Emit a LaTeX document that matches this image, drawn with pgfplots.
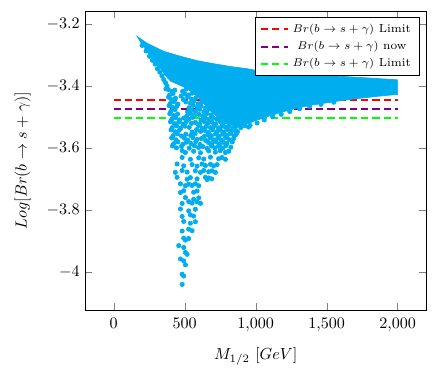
\documentclass[border=0pt]{standalone}
\usepackage{pgfplots}
\pgfplotsset{compat=1.18}
\definecolor{bcyan}{RGB}{0,174,239}
\definecolor{lpurple}{RGB}{128,0,128}
\definecolor{lgreen}{RGB}{0,255,0}
\begin{document}
\begin{tikzpicture}
\begin{axis}[
    scale only axis,
    width=212pt, height=186pt,
    xmin=-200, xmax=2200, ymin=-4.123, ymax=-3.16,
    xtick={0,500,1000,1500,2000},
    ytick={-4,-3.8,-3.6,-3.4,-3.2},
    xlabel={$M_{1/2}\ [GeV]$},
    ylabel={$Log[Br(b\rightarrow s+\gamma)]$},
    xlabel style={yshift=-3pt},
    ylabel style={yshift=3pt},
    xticklabel style={yshift=-1.5pt},
    legend style={font=\fontsize{7.3}{8.5}\selectfont, legend cell align=center},
]
% limits (drawn first, under the scan)
\addplot[red, very thick, dash pattern=on 4.5pt off 2.5pt] coordinates {(0,-3.445) (2000,-3.445)};
\addplot[lpurple, very thick, dash pattern=on 4.5pt off 2.5pt] coordinates {(0,-3.474) (2000,-3.474)};
\addplot[lgreen, very thick, dash pattern=on 4.5pt off 2.5pt] coordinates {(0,-3.504) (2000,-3.504)};
\legend{$Br(b\rightarrow s+\gamma)$ Limit, $Br(b\rightarrow s+\gamma)$ now, $Br(b\rightarrow s+\gamma)$ Limit}

% dense part of the scan (solid)
\addplot[fill=bcyan, draw=bcyan, line width=0.4pt, forget plot] coordinates {
 (165,-3.241) (235,-3.263) (352,-3.289) (470,-3.305) (587,-3.319) (704,-3.329)
 (822,-3.338) (939,-3.345) (1021,-3.352) (1200,-3.358) (1500,-3.367) (1800,-3.375)
 (2000,-3.381) (2000,-3.428) (1900,-3.432) (1800,-3.437) (1700,-3.442) (1600,-3.448)
 (1500,-3.455) (1400,-3.462) (1300,-3.471) (1200,-3.483) (1100,-3.497) (1000,-3.512)
 (930,-3.525) (870,-3.532) (820,-3.525) (760,-3.51) (700,-3.49) (650,-3.465)
 (600,-3.44) (550,-3.42) (500,-3.405) (450,-3.395) (400,-3.385) (360,-3.365)
 (329,-3.345) (290,-3.325) (258,-3.303) (220,-3.28) (190,-3.26)
} -- cycle;

% scattered points
\addplot[only marks, mark=*, mark size=1.35pt, bcyan, forget plot] coordinates {
 (200,-3.27) (228,-3.288) (252,-3.305) (272,-3.318) (292,-3.33) (308,-3.345)
 (325,-3.356) (340,-3.368) (352,-3.38) (365,-3.39) (375,-3.40) (368,-3.41)
 (960,-3.528) (1010,-3.52) (1060,-3.51) (1120,-3.500) (1180,-3.492) (1240,-3.483)
 (1310,-3.474) (1380,-3.466) (1460,-3.46) (1550,-3.453)
 (385,-3.412) (410,-3.419) (430,-3.414) (485,-3.418) (510,-3.411)
 (392,-3.431) (418,-3.425) (475,-3.433) (500,-3.426) (528,-3.430) (552,-3.424)
 (386,-3.437) (408,-3.445) (435,-3.440) (490,-3.444) (520,-3.436) (548,-3.443) (578,-3.439)
 (398,-3.457) (425,-3.451) (452,-3.459) (508,-3.452) (540,-3.456) (565,-3.449) (595,-3.458) (620,-3.453)
 (390,-3.464) (415,-3.470) (445,-3.466) (530,-3.471) (560,-3.463) (590,-3.469) (615,-3.465) (645,-3.472)
 (402,-3.483) (432,-3.477) (520,-3.484) (548,-3.478) (575,-3.482) (605,-3.476) (635,-3.485) (660,-3.479)
 (395,-3.490) (422,-3.496) (450,-3.491) (515,-3.497) (540,-3.489) (570,-3.495) (600,-3.492) (628,-3.498) (655,-3.490) (685,-3.494)
 (408,-3.509) (438,-3.503) (465,-3.510) (495,-3.504) (528,-3.508) (555,-3.502) (615,-3.511) (645,-3.505) (672,-3.509) (700,-3.503) (725,-3.508) (745,-3.504)
 (400,-3.516) (428,-3.522) (458,-3.517) (488,-3.523) (512,-3.515) (548,-3.521) (575,-3.518) (605,-3.524) (638,-3.516) (662,-3.521) (692,-3.517) (718,-3.523) (748,-3.515) (772,-3.520) (790,-3.517)
 (412,-3.535) (442,-3.529) (472,-3.536) (502,-3.530) (532,-3.534) (598,-3.528) (622,-3.537) (652,-3.531) (682,-3.535) (708,-3.529) (738,-3.536) (762,-3.530) (788,-3.534) (812,-3.528) (838,-3.536) (862,-3.531) (895,-3.535) (925,-3.529) (950,-3.533)
 (404,-3.542) (432,-3.548) (462,-3.543) (552,-3.549) (584,-3.541) (612,-3.547) (642,-3.544) (668,-3.550) (698,-3.542) (728,-3.548) (752,-3.543) (778,-3.549) (804,-3.541) (828,-3.547) (855,-3.544) (872,-3.548)
 (418,-3.561) (448,-3.555) (478,-3.562) (508,-3.556) (542,-3.560) (574,-3.554) (638,-3.563) (662,-3.557) (688,-3.561) (718,-3.555) (742,-3.562) (768,-3.556) (798,-3.560) (822,-3.554) (848,-3.561) (862,-3.557)
 (408,-3.568) (438,-3.574) (498,-3.569) (522,-3.575) (558,-3.567) (588,-3.573) (618,-3.570) (648,-3.576) (678,-3.568) (702,-3.574) (732,-3.569) (758,-3.575) (788,-3.567) (812,-3.573) (845,-3.570)
 (422,-3.587) (452,-3.581) (488,-3.588) (512,-3.582) (544,-3.586) (578,-3.580) (608,-3.589) (668,-3.583) (692,-3.587) (722,-3.581) (748,-3.588) (772,-3.582) (798,-3.586) (835,-3.581)
 (414,-3.594) (442,-3.600) (478,-3.595) (532,-3.601) (568,-3.593) (598,-3.599) (628,-3.596) (658,-3.602) (688,-3.594) (712,-3.600) (738,-3.595) (768,-3.601) (790,-3.593) (825,-3.598)
 (482,-3.609) (505,-3.615) (563,-3.611) (611,-3.616) (669,-3.610) (716,-3.614) (751,-3.609) (787,-3.615) (810,-3.611)
 (482,-3.631) (540,-3.637) (599,-3.632) (634,-3.636) (681,-3.630) (739,-3.635) (763,-3.631) (787,-3.637)
 (446,-3.652) (493,-3.658) (552,-3.654) (587,-3.659) (622,-3.652) (646,-3.657) (681,-3.653) (704,-3.658) (728,-3.654)
 (434,-3.679) (482,-3.673) (517,-3.678) (575,-3.674) (611,-3.679) (634,-3.673) (669,-3.677) (693,-3.674) (716,-3.679)
 (446,-3.695) (517,-3.701) (540,-3.696) (587,-3.700) (646,-3.695) (658,-3.702) (669,-3.697) (690,-3.700)
 (470,-3.716) (505,-3.722) (528,-3.717) (552,-3.721) (575,-3.716) (599,-3.722)
 (470,-3.744) (493,-3.738) (563,-3.743) (587,-3.739)
 (505,-3.760) (563,-3.766) (599,-3.761)
 (482,-3.779) (528,-3.773) (552,-3.778) (587,-3.774) (611,-3.779)
 (470,-3.797) (528,-3.803) (575,-3.798)
 (482,-3.821) (540,-3.816) (563,-3.820)
 (493,-3.837) (540,-3.843) (575,-3.838)
 (482,-3.868) (528,-3.862) (552,-3.867)
 (493,-3.891) (505,-3.897) (528,-3.892)
 (458,-3.915) (493,-3.921)
 (505,-3.937) (517,-3.943)
 (470,-3.958) (493,-3.964)
 (505,-3.977)
 (482,-4.007) (493,-4.013)
 (482,-4.040)
};
\end{axis}
\path (current bounding box.south west) ++(-5.8pt,-2pt);
\path (current bounding box.north east) ++(6pt,6.8pt);
\end{tikzpicture}
\end{document}
